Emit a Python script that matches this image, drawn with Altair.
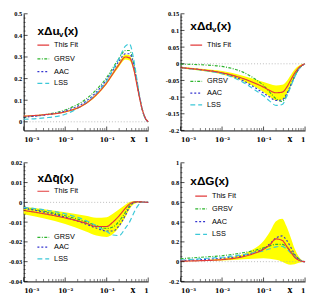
import altair as alt
import pandas as pd

# x sample points (Bjorken x)
X = [0.001, 0.00316, 0.01, 0.0316, 0.0562, 0.1, 0.141, 0.2, 0.282, 0.355, 0.447, 0.562, 0.708, 0.851, 1.0]

# panel 1: x Delta u_v
U_FIT  = [0.026, 0.033, 0.046, 0.085, 0.125, 0.180, 0.223, 0.266, 0.300, 0.296, 0.245, 0.150, 0.062, 0.018, 0.0]
U_LO   = [0.024, 0.031, 0.043, 0.081, 0.120, 0.174, 0.215, 0.256, 0.288, 0.284, 0.235, 0.142, 0.057, 0.016, 0.0]
U_HI   = [0.028, 0.035, 0.049, 0.089, 0.130, 0.186, 0.231, 0.276, 0.312, 0.308, 0.255, 0.158, 0.067, 0.020, 0.0]
U_GRSV = [0.022, 0.033, 0.055, 0.105, 0.148, 0.205, 0.250, 0.295, 0.330, 0.330, 0.270, 0.160, 0.062, 0.015, 0.0]
U_AAC  = [0.022, 0.031, 0.050, 0.095, 0.137, 0.195, 0.238, 0.282, 0.315, 0.315, 0.262, 0.158, 0.062, 0.016, 0.0]
U_LSS  = [0.012, 0.018, 0.035, 0.088, 0.130, 0.190, 0.240, 0.295, 0.350, 0.360, 0.290, 0.170, 0.065, 0.016, 0.0]

# panel 2: x Delta d_v
D_FIT  = [-0.0115, -0.018, -0.027, -0.044, -0.056, -0.070, -0.080, -0.087, -0.085, -0.072, -0.050, -0.028, -0.012, -0.004, 0.0]
D_LO   = [-0.014, -0.021, -0.032, -0.052, -0.067, -0.085, -0.099, -0.110, -0.108, -0.092, -0.066, -0.038, -0.018, -0.007, 0.0]
D_HI   = [-0.009, -0.015, -0.022, -0.036, -0.045, -0.055, -0.061, -0.065, -0.063, -0.053, -0.035, -0.017, -0.006, -0.001, 0.0]
D_GRSV = [-0.001, -0.003, -0.008, -0.025, -0.042, -0.065, -0.085, -0.105, -0.113, -0.095, -0.066, -0.038, -0.016, -0.005, 0.0]
D_AAC  = [-0.012, -0.018, -0.028, -0.050, -0.068, -0.088, -0.100, -0.110, -0.108, -0.092, -0.066, -0.038, -0.016, -0.005, 0.0]
D_LSS  = [-0.012, -0.019, -0.030, -0.055, -0.075, -0.096, -0.112, -0.125, -0.122, -0.100, -0.070, -0.040, -0.016, -0.005, 0.0]

# panel 3: x Delta qbar
Q_FIT  = [-0.0041, -0.0058, -0.0079, -0.0105, -0.0122, -0.0122, -0.0100, -0.0068, -0.0030, -0.0009, 0.0001, 0.0003, 0.0002, 0.0001, 0.0]
Q_LO   = [-0.0060, -0.0082, -0.0110, -0.0148, -0.0168, -0.0175, -0.0160, -0.0125, -0.0075, -0.0035, -0.0010, -0.0002, -0.0001, 0.0, 0.0]
Q_HI   = [-0.0022, -0.0035, -0.0050, -0.0068, -0.0078, -0.0075, -0.0058, -0.0035, -0.0012, 0.0002, 0.0005, 0.0004, 0.0002, 0.0001, 0.0]
Q_GRSV = [-0.0028, -0.0045, -0.0068, -0.0098, -0.0118, -0.0132, -0.0125, -0.0095, -0.0050, -0.0018, 0.0, 0.0003, 0.0002, 0.0001, 0.0]
Q_AAC  = [-0.0030, -0.0050, -0.0075, -0.0110, -0.0130, -0.0145, -0.0145, -0.0118, -0.0065, -0.0025, -0.0002, 0.0002, 0.0001, 0.0, 0.0]
Q_LSS  = [-0.0025, -0.0038, -0.0058, -0.0092, -0.0118, -0.0148, -0.0165, -0.0168, -0.0130, -0.0100, -0.0055, -0.0018, 0.0, 0.0, 0.0]

# panel 4: x Delta G
G_FIT  = [0.005, 0.010, 0.020, 0.050, 0.080, 0.125, 0.170, 0.230, 0.215, 0.160, 0.100, 0.045, 0.015, 0.003, 0.0]
G_LO   = [0.003, 0.006, 0.012, 0.025, 0.030, 0.035, 0.030, 0.020, 0.000, -0.020, -0.030, -0.025, -0.012, -0.003, 0.0]
G_HI   = [0.008, 0.015, 0.032, 0.075, 0.125, 0.210, 0.300, 0.410, 0.435, 0.360, 0.250, 0.130, 0.050, 0.012, 0.0]
G_GRSV = [0.030, 0.045, 0.060, 0.090, 0.110, 0.140, 0.160, 0.175, 0.175, 0.150, 0.110, 0.065, 0.028, 0.008, 0.0]
G_AAC  = [0.010, 0.020, 0.035, 0.060, 0.090, 0.130, 0.180, 0.240, 0.260, 0.220, 0.150, 0.075, 0.025, 0.005, 0.0]
G_LSS  = [0.015, 0.030, 0.045, 0.070, 0.090, 0.110, 0.130, 0.150, 0.155, 0.130, 0.090, 0.045, 0.015, 0.003, 0.0]

SERIES = ["This Fit", "GRSV", "AAC", "LSS"]
COLORS = {"This Fit": "#e23b3b", "GRSV": "#2fb52f", "AAC": "#3434d0", "LSS": "#3cc8d8"}
DASHES = {"This Fit": [1, 0], "GRSV": [3, 1.5, 1, 1.5], "AAC": [2, 2], "LSS": [5, 3]}

X_MAJOR = [0.001, 0.01, 0.1, 1.0]
X_MINOR = [0.002, 0.003, 0.004, 0.005, 0.006, 0.007, 0.008, 0.009,
           0.02, 0.03, 0.04, 0.05, 0.06, 0.07, 0.08, 0.09,
           0.2, 0.3, 0.4, 0.5, 0.6, 0.7, 0.8, 0.9]

ONE = pd.DataFrame({"a": [0]})
W = 127


def txt(t, x, y, size, weight="normal", font="Liberation Sans", baseline="middle"):
    return alt.Chart(ONE).mark_text(text=t, align="left", baseline=baseline, fontSize=size,
                                    fontWeight=weight, font=font, color="black").encode(
        x=alt.value(x), y=alt.value(y))


def panel(fit, lo, hi, grsv, aac, lss, dom, yticks, yminor, H, title_parts, leg_y, leg_x):
    xaxis = alt.Axis(values=X_MAJOR, title=None, grid=False, tickSize=0, labelPadding=6,
                     labelFont="DejaVu Serif", labelFontSize=6.5, labelFontWeight="bold",
                     domainColor="black", labelColor="black",
                     labelExpr="datum.value > 0.5 ? '1' : datum.value > 0.05 ? '10\u207b\u00b9' : datum.value > 0.005 ? '10\u207b\u00b2' : '10\u207b\u00b3'")
    yaxis = alt.Axis(values=yticks, title=None, grid=False, tickSize=0, labelPadding=2,
                     labelFont="Liberation Serif", labelFontSize=6.5, labelFontWeight="bold",
                     domainColor="black", labelColor="black",
                     labelExpr="datum.value < 0 ? '-' + format(-datum.value, '~g') : format(datum.value, '~g')")
    xs = alt.Scale(type="log", domain=[0.001, 1], nice=False)
    ys = alt.Scale(domain=dom, nice=False, zero=False)

    def xe():
        return alt.X("x:Q", scale=xs, axis=xaxis)

    def ye(f="y"):
        return alt.Y(f + ":Q", scale=ys, axis=yaxis)

    band_df = pd.DataFrame({"x": X, "lo": lo, "hi": hi})
    layers = [alt.Chart(band_df).mark_area(color="#ffff00", opacity=1, interpolate="monotone").encode(
        x=xe(), y=ye("lo"), y2="hi:Q")]
    layers.append(alt.Chart(pd.DataFrame({"y": [0.0]})).mark_rule(color="#aaaaaa", strokeDash=[1, 2], strokeWidth=0.8)
                  .encode(y=ye()))
    vals = {"This Fit": fit, "GRSV": grsv, "AAC": aac, "LSS": lss}
    for s in ["GRSV", "AAC", "LSS", "This Fit"]:
        df = pd.DataFrame({"x": X, "y": vals[s]})
        layers.append(alt.Chart(df).mark_line(color=COLORS[s], strokeDash=DASHES[s], strokeWidth=1.2,
                                              interpolate="monotone").encode(x=xe(), y=ye()))
    # inner ticks
    layers.append(alt.Chart(pd.DataFrame({"y": yticks})).mark_rule(color="black", strokeWidth=0.7)
                  .encode(y=ye(), x=alt.value(0), x2=alt.value(4)))
    layers.append(alt.Chart(pd.DataFrame({"y": yminor})).mark_rule(color="black", strokeWidth=0.5)
                  .encode(y=ye(), x=alt.value(0), x2=alt.value(2)))
    layers.append(alt.Chart(pd.DataFrame({"x": X_MINOR})).mark_rule(color="black", strokeWidth=0.5)
                  .encode(x=xe(), y=alt.value(H), y2=alt.value(H - 2.5)))
    layers.append(alt.Chart(pd.DataFrame({"x": X_MAJOR})).mark_rule(color="black", strokeWidth=0.7)
                  .encode(x=xe(), y=alt.value(H), y2=alt.value(H - 4)))
    # title
    for (t, x, y, size) in title_parts:
        layers.append(txt(t, x, y, size, weight="bold"))
    # legend
    for s, ly in zip(SERIES, leg_y):
        layers.append(alt.Chart(ONE).mark_rule(color=COLORS[s], strokeDash=DASHES[s], strokeWidth=1.2)
                      .encode(x=alt.value(leg_x), x2=alt.value(leg_x + 12), y=alt.value(ly)))
        layers.append(txt(s, leg_x + 17, ly, 7.5))
    # x label
    layers.append(txt("x", 109, H + 9, 10, weight="bold", font="Liberation Serif"))
    return alt.layer(*layers).properties(width=W, height=H)


p1 = panel(U_FIT, U_LO, U_HI, U_GRSV, U_AAC, U_LSS, [-0.04, 0.5],
           [0, 0.1, 0.2, 0.3, 0.4, 0.5],
           [0.02, 0.04, 0.06, 0.08, 0.12, 0.14, 0.16, 0.18, 0.22, 0.24, 0.26, 0.28, 0.32, 0.34, 0.36, 0.38, 0.42, 0.44, 0.46, 0.48],
           119,
           [("x\u0394u", 14, 18, 12), ("v", 36, 22, 8), ("(x)", 41, 18, 12)],
           [32, 46, 59, 71], 14)
p2 = panel(D_FIT, D_LO, D_HI, D_GRSV, D_AAC, D_LSS, [-0.2, 0.15],
           [-0.2, -0.15, -0.1, -0.05, 0, 0.05, 0.1, 0.15],
           [-0.19, -0.18, -0.17, -0.16, -0.14, -0.13, -0.12, -0.11, -0.09, -0.08, -0.07, -0.06, -0.04, -0.03, -0.02, -0.01,
            0.01, 0.02, 0.03, 0.04, 0.06, 0.07, 0.08, 0.09, 0.11, 0.12, 0.13, 0.14],
           119,
           [("x\u0394d", 10, 13, 12), ("v", 32, 17, 8), ("(x)", 37, 13, 12)],
           [32, 69, 81, 93], 10)
p3 = panel(Q_FIT, Q_LO, Q_HI, Q_GRSV, Q_AAC, Q_LSS, [-0.04, 0.02],
           [-0.04, -0.03, -0.02, -0.01, 0, 0.01, 0.02],
           [-0.038, -0.036, -0.034, -0.032, -0.028, -0.026, -0.024, -0.022, -0.018, -0.016, -0.014, -0.012,
            -0.008, -0.006, -0.004, -0.002, 0.002, 0.004, 0.006, 0.008, 0.012, 0.014, 0.016, 0.018],
           121,
           [("x\u0394q\u0304(x)", 14, 16, 12)],
           [29, 76, 86, 98], 14)
p4 = panel(G_FIT, G_LO, G_HI, G_GRSV, G_AAC, G_LSS, [-0.2, 1.0],
           [-0.2, 0, 0.2, 0.4, 0.6, 0.8, 1.0],
           [-0.15, -0.1, -0.05, 0.05, 0.1, 0.15, 0.25, 0.3, 0.35, 0.45, 0.5, 0.55, 0.65, 0.7, 0.75, 0.85, 0.9, 0.95],
           121,
           [("x\u0394G(x)", 10, 19, 12)],
           [34, 47, 60, 73], 15)

chart = alt.concat(p1, p2, p3, p4, columns=2, spacing=33, bounds="flush").properties(
    padding=0
).configure_view(stroke=None)

chart.save("out.html", embed_options={"renderer": "svg", "actions": False})
